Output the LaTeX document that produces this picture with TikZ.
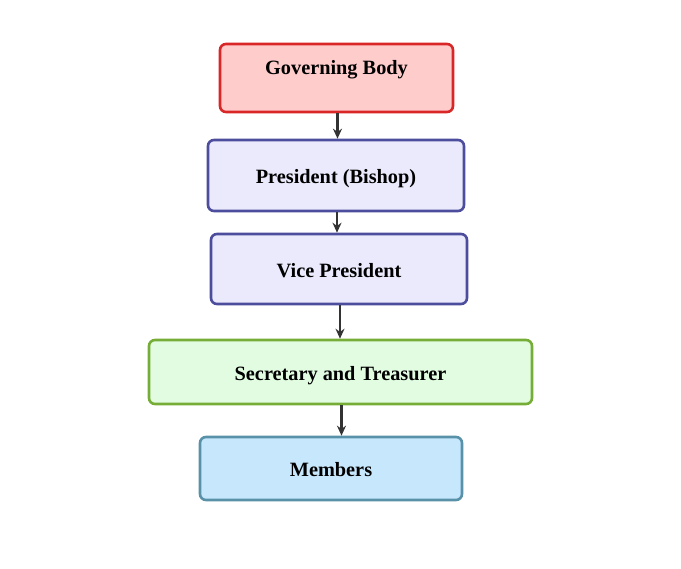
\documentclass[tikz,border=0pt]{standalone}
\usepackage{fontspec}
\setmainfont{Liberation Serif}
\usetikzlibrary{arrows.meta}
\usepackage{xcolor}

\definecolor{govfill}{HTML}{FFCCCC}
\definecolor{govline}{HTML}{D92626}
\definecolor{presfill}{HTML}{EAEAFC}
\definecolor{presline}{HTML}{4D4D9E}
\definecolor{secfill}{HTML}{E2FCE2}
\definecolor{secline}{HTML}{76AD36}
\definecolor{memfill}{HTML}{C7E8FC}
\definecolor{memline}{HTML}{5891A8}
\definecolor{arrowgray}{HTML}{333333}

\begin{document}
\begin{tikzpicture}[x=1pt,y=-1pt,
    box/.style={draw, line width=2.6pt, rounded corners=6pt, inner sep=0pt,
      font=\fontsize{20.3}{24}\selectfont\bfseries, text height=19pt},
    arrow/.style={draw=arrowgray, line width=2.2pt, -{Stealth[length=10pt,width=9pt]}}]
      % Frame
      \useasboundingbox (0,0) rectangle (681,569);

      % Boxes
      \node[box, draw=govline, fill=govfill, minimum width=233pt, minimum height=68pt,
        text depth=26pt] (gov) at (336.5,78) {Governing Body};
      \node[box, draw=presline, fill=presfill, minimum width=256pt, minimum height=71pt,
        text depth=2pt] (pres) at (336,175.5) {President (Bishop)};
      \node[box, draw=presline, fill=presfill, minimum width=256pt, minimum height=70pt,
        text depth=2pt] (vp) at (339,269) {Vice President};
      \node[box, draw=secline, fill=secfill, minimum width=383pt, minimum height=64pt,
        text depth=2pt] (sec) at (340.5,372) {Secretary and Treasurer};
      \node[box, draw=memline, fill=memfill, minimum width=262pt, minimum height=63pt,
        text depth=2pt] (mem) at (331,468.5) {Members};

      % Arrows
      \foreach \a/\b in {gov/pres,pres/vp,vp/sec,sec/mem}
      {
        \draw[arrow] ([xshift=1pt]\a.south) -- ([xshift=1pt]\a.south |- \b.north);
      }
\end{tikzpicture}
\end{document}
